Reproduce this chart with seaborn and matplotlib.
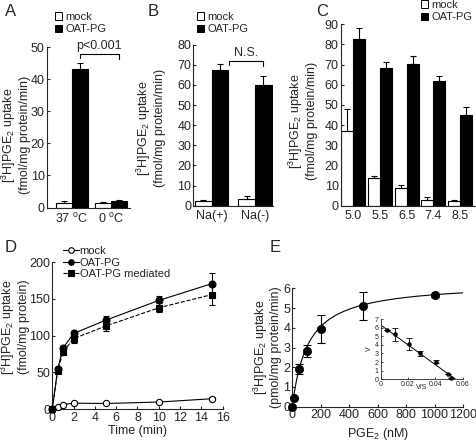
import numpy as np
import pandas as pd
import matplotlib
matplotlib.use("Agg")
import matplotlib.pyplot as plt
import seaborn as sns
from matplotlib.patches import Patch
from matplotlib.lines import Line2D

sns.set_theme(style="ticks")
plt.rcParams["font.family"] = ["Liberation Sans", "DejaVu Sans"]
plt.rcParams["mathtext.default"] = "regular"
plt.rcParams["axes.linewidth"] = 0.8
plt.rcParams["xtick.major.width"] = 0.8
plt.rcParams["ytick.major.width"] = 0.8
plt.rcParams["xtick.major.size"] = 2.5
plt.rcParams["ytick.major.size"] = 2.5
plt.rcParams["xtick.direction"] = "in"
plt.rcParams["ytick.direction"] = "in"
plt.rcParams["xtick.major.pad"] = 2.0
plt.rcParams["ytick.major.pad"] = 1.5

# ---------------- data ----------------
hue_levels = ["mock", "OAT-PG"]

A_conditions = ["37 $^{o}$C", "0 $^{o}$C"]
A_mock = [1.5, 1.4]
A_mock_err = [0.5, 0.4]
A_oat = [43.3, 2.0]
A_oat_err = [1.7, 0.3]

B_conditions = ["Na(+)", "Na(-)"]
B_mock = [2.2, 3.5]
B_mock_err = [0.8, 1.1]
B_oat = [67.5, 59.8]
B_oat_err = [2.8, 4.7]

C_ph = ["5.0", "5.5", "6.5", "7.4", "8.5"]
C_mock = [37.0, 13.5, 9.0, 2.8, 2.5]
C_mock_err = [11.0, 1.2, 1.2, 1.5, 0.4]
C_oat = [82.5, 68.5, 70.5, 61.8, 45.0]
C_oat_err = [5.5, 3.0, 3.8, 2.5, 3.8]

D_time = [0, 0.5, 1, 2, 5, 10, 15]
D_mock = [0, 2.5, 6, 8, 7.5, 9.5, 14]
D_mock_err = [0, 1, 1, 1, 1, 1.5, 2]
D_oat = [0, 54, 83, 103, 121, 148, 171]
D_oat_err = [0, 3, 3, 4, 6, 6, 14]
D_med = [0, 52, 77.5, 96, 113, 138, 156]
D_med_err = [0, 3, 4, 6, 7, 6, 14]

E_conc = [0, 10, 50, 100, 200, 500, 1000]
E_uptake = [0, 0.43, 1.92, 2.83, 3.95, 5.1, 5.65]
E_err = [0, 0, 0.25, 0.3, 0.7, 0.72, 0.08]
E_vmax = 6.3
E_km = 110.0

inset_vs = [0.0048, 0.0104, 0.0208, 0.029, 0.0402, 0.049, 0.0516]
inset_v = [5.73, 5.23, 4.07, 3.0, 2.05, 0.62, 0.1]
inset_err = [0, 0.75, 0.68, 0.3, 0.15, 0, 0]

# ---------------- figure ----------------
W, H = 477, 444
fig = plt.figure(figsize=(W / 100, H / 100), dpi=100)


def px_axes(l, r, b, t):
    return fig.add_axes([l / W, 1 - b / H, (r - l) / W, (b - t) / H])


TICK_FS = 9
LAB_FS = 9
LEG_FS = 8
ylab_bar = "[$^{3}$H]PGE$_{2}$ uptake\n(fmol/mg protein/min)"
pal = {"mock": "white", "OAT-PG": "black"}


def bar_panel(ax, cats, mock, mock_err, oat, oat_err, width):
    df = pd.DataFrame({
        "cond": list(cats) * 2,
        "group": ["mock"] * len(cats) + ["OAT-PG"] * len(cats),
        "value": list(mock) + list(oat),
    })
    sns.barplot(data=df, x="cond", y="value", hue="group", order=cats,
                hue_order=hue_levels, palette=pal, edgecolor="black",
                linewidth=0.8, width=width, saturation=1, errorbar=None,
                legend=False, ax=ax)
    bars = sorted(ax.patches, key=lambda p: p.get_x())
    errs = []
    for i in range(len(cats)):
        errs += [mock_err[i], oat_err[i]]
    xs = [p.get_x() + p.get_width() / 2 for p in bars]
    ys = [p.get_height() for p in bars]
    ax.errorbar(xs, ys, yerr=[np.zeros(len(errs)), errs], fmt="none",
                ecolor="black", elinewidth=0.8, capsize=2.5, capthick=0.8,
                zorder=5)
    sns.despine(ax=ax)
    ax.set_xlabel("")
    ax.set_ylabel(ylab_bar, fontsize=LAB_FS, linespacing=1.15)
    ax.tick_params(axis="x", length=0, labelsize=TICK_FS, pad=3)
    ax.tick_params(axis="y", labelsize=TICK_FS)
    return xs


def bar_legend(x, y):
    handles = [Patch(facecolor="white", edgecolor="black", linewidth=0.7),
               Patch(facecolor="black", edgecolor="black", linewidth=0.7)]
    fig.legend(handles, hue_levels, loc="upper left",
               bbox_to_anchor=(x / W, 1 - y / H), frameon=False,
               fontsize=LEG_FS, handlelength=0.65, handleheight=0.65,
               handletextpad=0.3, labelspacing=0.2, borderpad=0,
               borderaxespad=0)


# Panel A
axA = px_axes(46.7, 130, 207.5, 47)
xsA = bar_panel(axA, A_conditions, A_mock, A_mock_err, A_oat, A_oat_err, 0.82)
axA.set_xlim(-0.64, 1.49)
axA.set_ylim(0, 50)
axA.set_yticks([0, 10, 20, 30, 40, 50])
axA.yaxis.set_label_coords(-0.19, 0.45)
yb = 47.8
axA.plot([xsA[1], xsA[1], xsA[3], xsA[3]], [yb - 1.2, yb, yb, yb - 1.6],
         color="black", lw=0.8, clip_on=False)
axA.text((xsA[1] + xsA[3]) / 2, yb + 0.6, "p<0.001", ha="center",
         va="bottom", fontsize=TICK_FS)
bar_legend(55, 12)

# Panel B
axB = px_axes(193.3, 273, 205.7, 44.7)
xsB = bar_panel(axB, B_conditions, B_mock, B_mock_err, B_oat, B_oat_err, 0.77)
axB.set_xlim(-0.425, 1.415)
axB.set_ylim(0, 80)
axB.set_yticks(range(0, 81, 10))
axB.yaxis.set_label_coords(-0.34, 0.48)
yb = 72
axB.plot([0.40, 0.40, xsB[3], xsB[3]], [yb - 2, yb, yb, yb - 2.5],
         color="black", lw=0.8, clip_on=False)
axB.text((0.40 + xsB[3]) / 2, yb + 1.0, "N.S.", ha="center", va="bottom",
         fontsize=TICK_FS)
bar_legend(197, 12)

# Panel C
axC = px_axes(340.7, 476, 205.7, 24.3)
bar_panel(axC, C_ph, C_mock, C_mock_err, C_oat, C_oat_err, 0.9)
axC.set_xlim(-0.47, 4.6)
axC.set_ylim(0, 90)
axC.set_yticks(range(0, 91, 10))
axC.yaxis.set_label_coords(-0.165, 0.467)
bar_legend(421, 0)

# Panel D
axD = px_axes(52.3, 222.7, 409, 262.3)
dfD = pd.DataFrame({
    "time": D_time * 3,
    "uptake": D_mock + D_oat + D_med,
    "series": ["mock"] * len(D_time) + ["OAT-PG"] * len(D_time)
              + ["OAT-PG mediated"] * len(D_time),
})
styles = {
    "mock": dict(marker="o", mfc="white", ls="-", err=D_mock_err, ms=4.5),
    "OAT-PG": dict(marker="o", mfc="black", ls="-", err=D_oat_err, ms=5),
    "OAT-PG mediated": dict(marker="s", mfc="black", ls="--", err=D_med_err, ms=5),
}
for name, st in styles.items():
    sub = dfD[dfD["series"] == name]
    sns.lineplot(data=sub, x="time", y="uptake", color="black", lw=0.8,
                 linestyle=st["ls"], marker=st["marker"],
                 markerfacecolor=st["mfc"], markeredgecolor="black",
                 markersize=st["ms"], markeredgewidth=0.8, ax=axD,
                 clip_on=False, zorder=4)
    axD.errorbar(sub["time"], sub["uptake"], yerr=st["err"], fmt="none",
                 ecolor="black", elinewidth=0.8, capsize=2.5, capthick=0.8,
                 zorder=3)
axD.set_xlim(0, 16)
axD.set_ylim(0, 200)
axD.set_xticks(range(0, 17, 2))
axD.set_yticks([0, 50, 100, 150, 200])
sns.despine(ax=axD)
axD.tick_params(labelsize=TICK_FS)
axD.set_xlabel("Time (min)", fontsize=LAB_FS, labelpad=1)
axD.set_ylabel("[$^{3}$H]PGE$_{2}$ uptake\n(fmol/mg protein)", fontsize=LAB_FS,
               linespacing=1.15)
axD.yaxis.set_label_coords(-0.13, 0.56)
hD = [Line2D([], [], color="black", lw=0.8, ls=st["ls"], marker=st["marker"],
             mfc=st["mfc"], mec="black", ms=4, mew=0.8)
      for st in styles.values()]
axD.legend(hD, list(styles.keys()), loc="upper left",
           bbox_to_anchor=(63 / W, 1 - 246 / H), bbox_transform=fig.transFigure,
           frameon=False, fontsize=LEG_FS, handlelength=1.4, handletextpad=0.1,
           labelspacing=0.15, borderpad=0, borderaxespad=0)

# Panel E
axE = px_axes(292.3, 463, 406.7, 288.3)
curve_x = np.linspace(0, 1200, 241)
curve_y = E_vmax * curve_x / (E_km + curve_x)
sns.lineplot(x=curve_x, y=curve_y, color="black", lw=0.8, ax=axE)
axE.errorbar(E_conc, E_uptake, yerr=E_err, fmt="none", ecolor="black",
             elinewidth=0.8, capsize=3, capthick=0.8, zorder=3)
sns.scatterplot(x=E_conc, y=E_uptake, color="black", s=36, edgecolor="black",
                ax=axE, zorder=4, clip_on=False)
axE.set_xlim(0, 1200)
axE.set_ylim(0, 6)
axE.set_xticks(range(0, 1201, 200))
axE.set_yticks(range(0, 7))
sns.despine(ax=axE)
axE.tick_params(labelsize=TICK_FS)
axE.set_xlabel("PGE$_{2}$ (nM)", fontsize=LAB_FS, labelpad=3)
axE.set_ylabel("[$^{3}$H]PGE$_{2}$ uptake\n(pmol/mg protein/min)",
               fontsize=LAB_FS, linespacing=1.0)
axE.yaxis.set_label_coords(-0.06, 0.5)

# Inset
axI = px_axes(380.7, 462.7, 379.3, 319)
line_x = np.array([0, 0.0548])
line_y = E_vmax - E_vmax / 0.0548 * line_x
sns.lineplot(x=line_x, y=line_y, color="black", lw=0.7, ax=axI)
axI.errorbar(inset_vs, inset_v, yerr=inset_err, fmt="none", ecolor="black",
             elinewidth=0.6, capsize=2, capthick=0.6, zorder=3)
sns.scatterplot(x=inset_vs, y=inset_v, color="black", s=9, edgecolor="black",
                ax=axI, zorder=4, clip_on=False)
axI.set_xlim(0, 0.06)
axI.set_ylim(0, 7)
axI.set_xticks([0, 0.02, 0.04, 0.06])
axI.set_xticklabels(["0", "0.02", "0.04", "0.06"])
axI.set_yticks(range(0, 8))
axI.patch.set_alpha(0)
sns.despine(ax=axI)
for s in axI.spines.values():
    s.set_linewidth(0.6)
axI.tick_params(labelsize=5, length=1.5, width=0.6, pad=1.5)
axI.set_xlabel("")
axI.text(0.5, -0.07, "V/S", transform=axI.transAxes, ha="center", va="top",
         fontsize=5)
axI.set_ylabel("V", fontsize=5, labelpad=1)

# panel letters
for letter, (x, y) in {"A": (11, 12), "B": (153, 12), "C": (322, 12),
                       "D": (11, 247), "E": (275, 247)}.items():
    fig.text(x / W, 1 - y / H, letter, fontsize=12, ha="center", va="center")

fig.savefig("out.png", dpi=100)
